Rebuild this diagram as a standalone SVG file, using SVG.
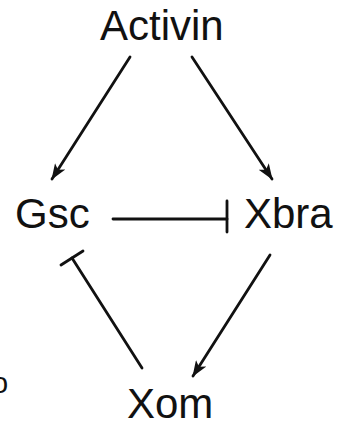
<svg xmlns="http://www.w3.org/2000/svg" width="346" height="426" viewBox="0 0 346 426">
<style>
.lbl{font-family:"Liberation Sans",Arial,sans-serif;font-size:42px;fill:#111}
.edge{stroke:#111;stroke-width:2.8;fill:none;stroke-linecap:round}
</style>
<defs>
<marker id="arr" viewBox="0 0 16 12" refX="15" refY="6" markerWidth="16" markerHeight="12" markerUnits="userSpaceOnUse" orient="auto">
<path d="M0,0 L16,6 L0,12 L4,6 Z" fill="#111"/>
</marker>
</defs>
<rect width="346" height="426" fill="#fff"/>
<g id="connectors">
<line class="edge" x1="130" y1="57" x2="52" y2="179" marker-end="url(#arr)"/>
<line class="edge" x1="192" y1="57" x2="272" y2="179" marker-end="url(#arr)"/>
<line class="edge" x1="270" y1="255" x2="193" y2="376" marker-end="url(#arr)"/>
<line class="edge" x1="113" y1="219" x2="227" y2="219"/>
<line class="edge" x1="227" y1="201" x2="227" y2="232"/>
<line class="edge" x1="142" y1="368" x2="72" y2="258"/>
<line class="edge" x1="61" y1="265" x2="83" y2="251"/>
</g>
<g id="activin"><text class="lbl" x="100" y="40">Activin</text></g>
<g id="gsc"><text class="lbl" x="15" y="228">Gsc</text></g>
<g id="xbra"><text class="lbl" x="244" y="228">Xbra</text></g>
<g id="xom"><text class="lbl" x="127" y="418">Xom</text></g>
<text x="-8" y="393" style="font-family:'Liberation Sans',Arial,sans-serif;font-size:29px;fill:#111">o</text>
</svg>
